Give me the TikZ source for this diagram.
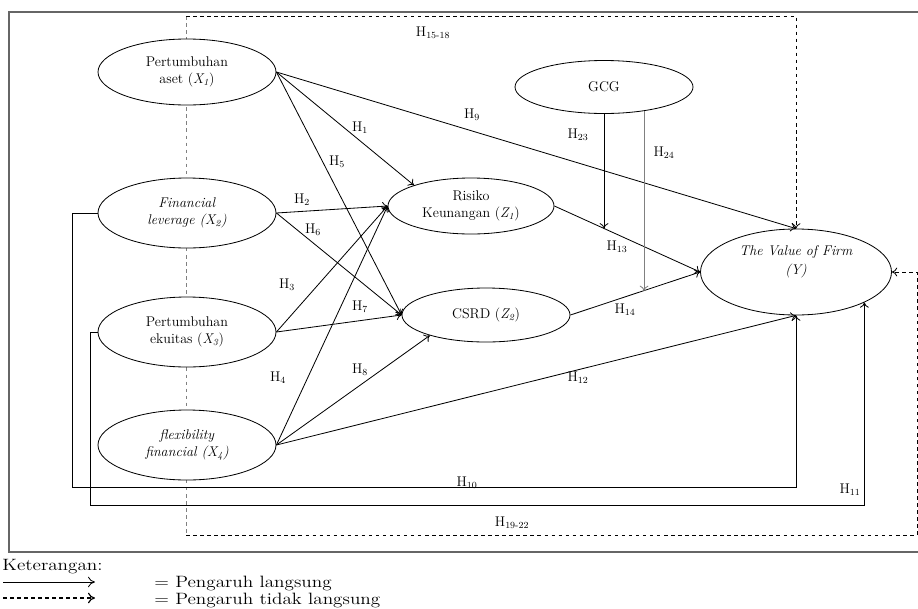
\documentclass[tikz,border=0pt]{standalone}
\usepackage{tikz}
\usetikzlibrary{shapes}
\usetikzlibrary{arrows.meta}

\newcommand{\hlab}[1]{H\textsubscript{#1}}
\newcommand{\legwide}[1]{\scalebox{1.17}[1]{#1}}

\begin{document}
\begin{tikzpicture}[x=0.03cm, y=-0.03cm, line width=0.7pt, >={To[length=4.5pt,width=7.5pt]},
    var/.style={ellipse, draw, fill=white, inner sep=0pt, align=center, font=\fontsize{12}{14}\selectfont},
    lab/.style={inner sep=1pt, font=\fontsize{12}{14}\selectfont},
    legtext/.style={anchor=west, inner sep=0pt, font=\fontsize{14}{16}\selectfont}]
    \useasboundingbox (0,0) rectangle (918,608);

    %frame
    \draw[line width=1pt, black!60] (918,12) -- (9,12) -- (9,552) -- (918,552);

    %indirect paths, behind the ellipses
    \coordinate (dtop) at (186,16);
    \coordinate (dbot) at (186,535);
    \draw[dashed, gray, line width=0.8pt] (dtop) -- (dbot);

    %variables
    \node[var, minimum width=5.34cm, minimum height=1.98cm] (x1) at (187,72) {Pertumbuhan\\aset (\textit{X\textsubscript{1}})};
    \node[var, minimum width=5.34cm, minimum height=2.1cm] (x2) at (187,213) {\textit{Financial}\\\textit{leverage (X\textsubscript{2})}};
    \node[var, minimum width=5.34cm, minimum height=2.1cm] (x3) at (187,332) {Pertumbuhan\\ekuitas (\textit{X\textsubscript{3}})};
    \node[var, minimum width=5.34cm, minimum height=2.1cm] (x4) at (187,445) {\textit{flexibility}\\\textit{financial (X\textsubscript{4})}};
    \node[var, minimum width=4.98cm, minimum height=1.68cm] (z1) at (471,206) {Risiko\\Keunangan (\textit{Z\textsubscript{1}})};
    \node[var, minimum width=5.04cm, minimum height=1.62cm] (z2) at (486,315) {CSRD (\textit{Z\textsubscript{2}})};
    \node[var, minimum width=5.34cm, minimum height=1.59cm] (gcg) at (604,87) {GCG};
    \node[var, minimum width=5.73cm, minimum height=2.58cm] (y) at (796,272) {\textit{The Value of Firm}\\[2pt]\textit{(Y)}\\[6pt]};

    %direct paths
    \draw[->] (x1.east) -- (z1.160);
    \draw[->] (x1.east) -- (z2.west);
    \draw[->] (x1.east) -- (y.north);
    \draw[->] (x2.east) -- (z1.west);
    \draw[->] (x2.east) -- (z2.west);
    \draw[->] (x3.east) -- (z1.west);
    \draw[->] (x3.east) -- (z2.west);
    \draw[->] (x4.east) -- (z1.west);
    \draw[->] (x4.east) -- (z2.200);
    \draw[->] (x4.east) -- (y.south);
    \draw[->] (z1.east) -- (y.west);
    \draw[->] (z2.east) -- (y.west);
    \draw[->] (x2.west) -| (72,487) -| (y.south);
    \draw[->] (x3.west) -| (90,505) -| (y.-24);

    %moderation
    \path (z1.east) -- (y.west) coordinate[pos=0.34] (m1);
    \path (z2.east) -- (y.west) coordinate[pos=0.56] (m2);
    \draw[->] (gcg.south) -- (gcg.south |- m1);
    \draw[->, gray] (gcg.-31) -- (gcg.-31 |- m2);

    %indirect
    \draw[->, dashed] (dtop) -| (y.north);
    \draw[->, dashed] (dbot) -- (917,535) |- (y.east);

    %labels
    \node[lab] (h1) at (360,128) {\hlab{1}};
    \node[lab] (h2) at (302,200) {\hlab{2}};
    \node[lab] (h3) at (287,285) {\hlab{3}};
    \node[lab] (h4) at (278,378) {\hlab{4}};
    \node[lab] (h5) at (337,162) {\hlab{5}};
    \node[lab] (h6) at (313,230) {\hlab{6}};
    \node[lab] (h7) at (360,307) {\hlab{7}};
    \node[lab] (h8) at (360,370) {\hlab{8}};
    \node[lab] (h9) at (472,115) {\hlab{9}};
    \node[lab] (h10) at (467,483) {\hlab{10}};
    \node[lab] (h11) at (850,490) {\hlab{11}};
    \node[lab] (h12) at (578,378) {\hlab{12}};
    \node[lab] (h13) at (617,247) {\hlab{13}};
    \node[lab] (h14) at (625,310) {\hlab{14}};
    \node[lab] (h23) at (578,135) {\hlab{23}};
    \node[lab] (h24) at (664,153) {\hlab{24}};
    \node[lab] (h1518) at (433,33) {\hlab{15-18}};
    \node[lab] (h1922) at (512,523) {\hlab{19-22}};

    %legend
    \node[legtext] (ket) at (2,567) {\legwide{Keterangan:}};
    \coordinate (ls) at (3,582);
    \coordinate (ld) at (3,598);
    \draw[->, >={To[length=6pt,width=9pt]}] (ls) -- ++(92,0);
    \draw[->, >={To[length=6pt,width=9pt]}, dashed, line width=1pt] (ld) -- ++(92,0);
    \node[legtext] (leg1) at (154,583) {\legwide{= Pengaruh langsung}};
    \node[legtext] (leg2) at (154,600) {\legwide{= Pengaruh tidak langsung}};
\end{tikzpicture}
\end{document}
